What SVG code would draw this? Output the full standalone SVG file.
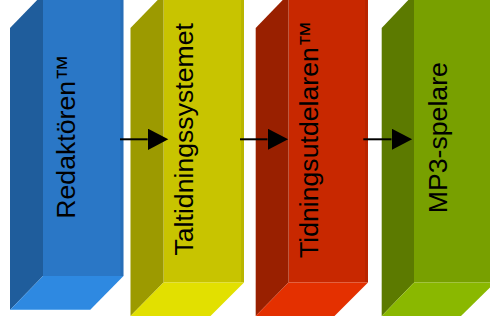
<svg xmlns="http://www.w3.org/2000/svg" width="490" height="333" viewBox="0 0 490 333">
<defs>
<style>
.lbl{font-family:"Liberation Sans",Arial,sans-serif;font-size:26.67px;fill:#000;text-anchor:middle}
.edge{fill:#000;fill-opacity:0.07}
.conn{stroke:#000;stroke-width:2;fill:none}
</style>
<marker id="ah" markerUnits="userSpaceOnUse" markerWidth="22" markerHeight="22" refX="0" refY="10.75" orient="auto">
<path d="M0,0 L20.6,10.75 L0,21.5 z" fill="#000"/>
</marker>
</defs>
<rect width="490" height="333" fill="#fff"/>
<g id="redaktoren">
<rect x="43" y="-6" width="80.5" height="282" fill="#2a77c6"/>
<rect class="edge" x="120.5" y="-6" width="3" height="282"/>
<polygon points="10,28 43,-6 43,276 10,310" fill="#1f5d9c"/>
<polygon points="43,276 123.5,276 90,310 10,310" fill="#2e89e1"/>
<line x1="10" y1="309.5" x2="90" y2="309.5" stroke="#5aa6ec" stroke-width="1"/>
<text class="lbl" transform="translate(74.5,136.5) rotate(-90)">Redaktören™</text>
</g>
<g id="taltidningssystemet">
<rect x="163.5" y="-6" width="80.5" height="288.5" fill="#c8c400"/>
<rect class="edge" x="241" y="-6" width="3" height="288.5"/>
<polygon points="130.5,28 163.5,-6 163.5,282.5 130.5,316" fill="#9c9a00"/>
<polygon points="163.5,282.5 244,282.5 210.5,316 130.5,316" fill="#e2e000"/>
<text class="lbl" transform="translate(192.5,139.3) rotate(-90)">Taltidningssystemet</text>
</g>
<g id="tidningsutdelaren">
<rect x="288.5" y="-6" width="79.5" height="288.5" fill="#c82800"/>
<rect class="edge" x="365" y="-6" width="3" height="288.5"/>
<polygon points="255.7,28 288.5,-6 288.5,282.5 255.7,316" fill="#992000"/>
<polygon points="288.5,282.5 368,282.5 334.5,316 255.7,316" fill="#e43000"/>
<text class="lbl" transform="translate(318,139.3) rotate(-90)">Tidningsutdelaren™</text>
</g>
<g id="mp3spelare">
<rect x="414" y="-6" width="81" height="288.5" fill="#78a000"/>
<polygon points="381.7,28 414,-6 414,282.5 381.7,316" fill="#5c7a00"/>
<polygon points="414,282.5 495,282.5 461,316 381.7,316" fill="#8ab800"/>
<text class="lbl" transform="translate(446.5,137.7) rotate(-90)">MP3-spelare</text>
</g>
<g id="connectors">
<line class="conn" x1="120" y1="139.3" x2="147.7" y2="139.3" marker-end="url(#ah)"/>
<line class="conn" x1="240" y1="139.3" x2="267.5" y2="139.3" marker-end="url(#ah)"/>
<line class="conn" x1="363.3" y1="139.3" x2="391.5" y2="139.3" marker-end="url(#ah)"/>
</g>
</svg>
